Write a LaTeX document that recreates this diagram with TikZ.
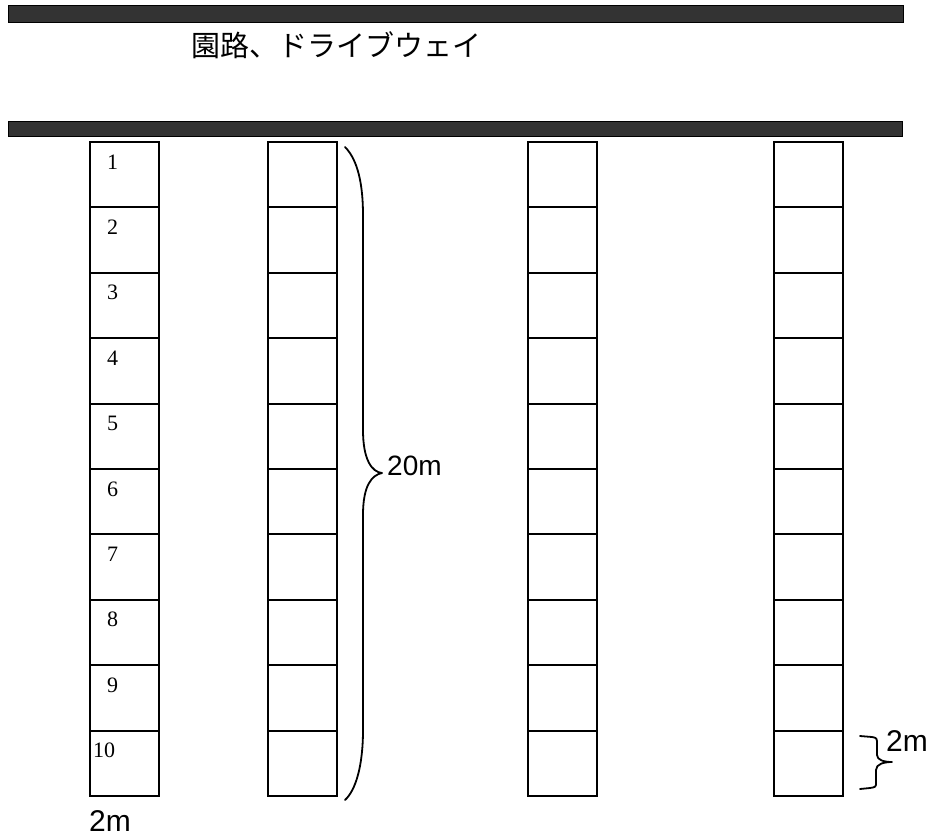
\documentclass[tikz,border=0pt]{standalone}
\usepackage{fontspec}
\setmainfont{Liberation Serif}
\newfontfamily\jpfont{Noto Sans CJK JP}
\newfontfamily\lsans{Liberation Sans}
\begin{document}
\begin{tikzpicture}[x=1pt,y=-1pt,
  bar/.style={draw=black, line width=1pt, fill=black!80, inner sep=0pt, anchor=north west},
  cell/.style={draw=black, line width=2pt, minimum width=69pt, minimum height=65.4pt, inner sep=0pt, anchor=north west},
  num/.style={font=\fontsize{22}{22}\selectfont, anchor=base west, inner sep=0pt},
  lab/.style={font=\lsans\fontsize{#1}{#1}\selectfont, inner sep=0pt, anchor=base west},
  bracestyle/.style={draw=black, line width=1.8pt, line cap=round, line join=round}]
\useasboundingbox (0,0) rectangle (931,838);
% bars
\node[bar, minimum width=895pt, minimum height=17pt] (bar1) at (8,5) {};
\node[bar, minimum width=894pt, minimum height=15pt] (bar2) at (8,121) {};
% title
\node[font=\jpfont\fontsize{29}{29}\selectfont, anchor=west, inner sep=0pt] (title) at (191,45) {園路、ドライブウェイ};
% columns
\foreach \c/\x in {a/89,b/267,c/527,d/773}{
  \foreach \r in {1,...,10}{
    \node[cell] (\c\r) at (\x,{141+(\r-1)*65.4}) {};
  }
}
% numbers
\foreach \r in {1,...,9}{
  \node[num] (n\r) at (107,{141+(\r-1)*65.4+28}) {\r};
}
\node[num] (n10) at (93,{141+9*65.4+28}) {10};
% big brace
\draw[bracestyle] (345,147) .. controls (358,160) and (363,185) .. (363,215) -- (363,430)
  .. controls (363,460) and (372,472) .. (382,473)
  .. controls (372,475) and (363,485) .. (363,515) -- (363,730)
  .. controls (363,765) and (356,790) .. (345,800);
\node[lab=28] (l20) at (387,475) {20m};
% small brace
\draw[bracestyle] (860,736) -- (872,737) .. controls (877,738) .. (877,745) -- (877,755)
  .. controls (877,760) and (884,762) .. (892,762)
  .. controls (884,762) and (876,764) .. (876,770) -- (876,782)
  .. controls (876,787) .. (870,788) -- (860,789);
\node[lab=30] (l2r) at (886,751) {2m};
% bottom label
\node[lab=30] (l2b) at (89,831) {2m};
\end{tikzpicture}
\end{document}
